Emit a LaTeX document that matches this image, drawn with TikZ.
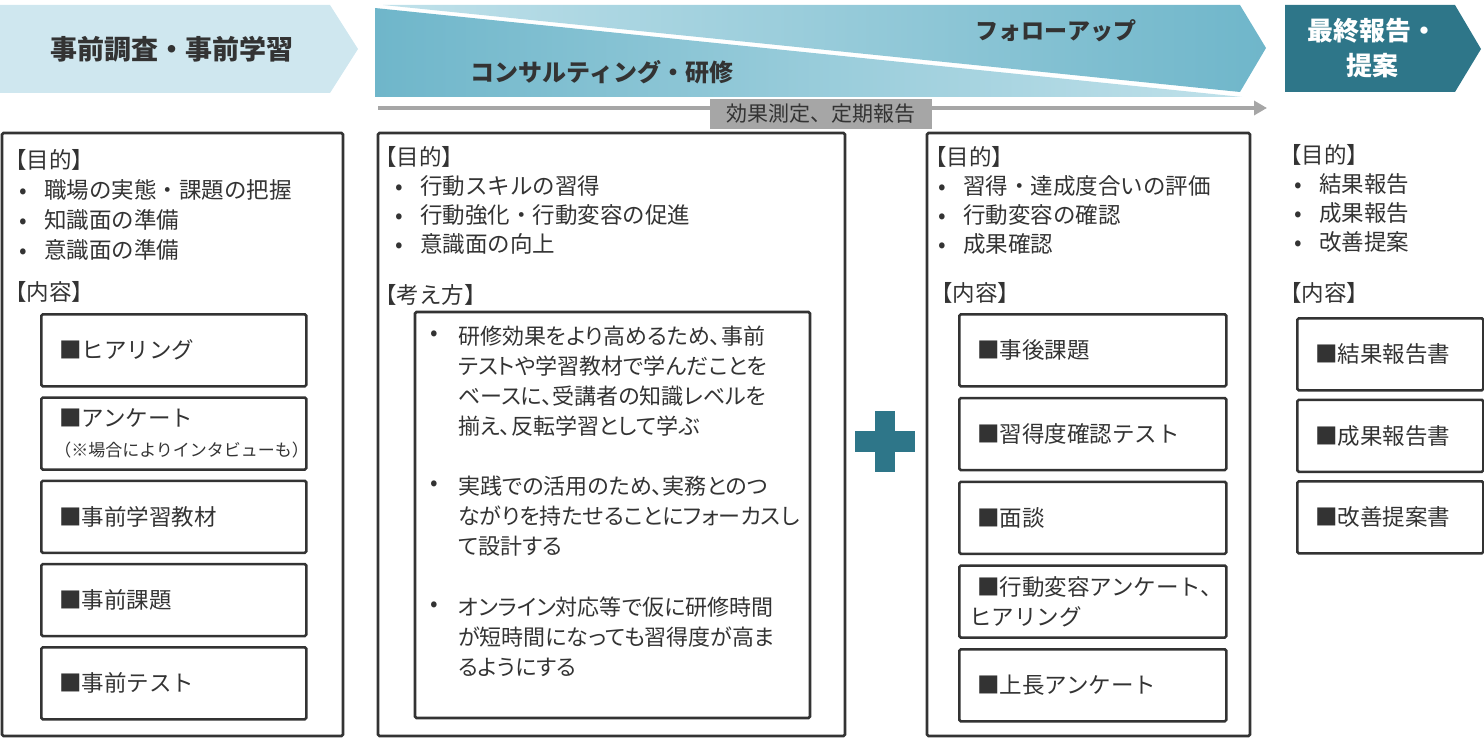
\documentclass[tikz,border=0pt]{standalone}
\usepackage{fontspec}
\setmainfont{Noto Sans CJK JP}
\newfontfamily\paltfont{Noto Sans CJK JP}[RawFeature=+palt]
\usetikzlibrary{arrows.meta}

\definecolor{ink}{HTML}{333333}
\definecolor{paleblue}{HTML}{CFE7EF}
\definecolor{midblue}{HTML}{6FB6CA}
\definecolor{liteblue}{HTML}{C0E1EA}
\definecolor{deepteal}{HTML}{2E7689}
\definecolor{flowgray}{HTML}{A6A6A6}

\newcommand{\txtsize}{\fontsize{22.5}{30}\selectfont}
\newcommand{\dotitem}[1]{\makebox[25pt][l]{•}#1}

\begin{document}
\begin{tikzpicture}[
  x=1pt, y=-1pt,
  frame/.style={draw=ink, line width=2.6pt, rounded corners=1.5pt},
  itembox/.style={frame, anchor=north west, minimum height=72pt, inner xsep=18pt, inner ysep=0pt, align=left, text=ink, font=\txtsize},
  heading/.style={anchor=west, inner sep=0pt, text=ink, font=\txtsize},
  point/.style={anchor=west, inner sep=0pt, text=ink, font=\txtsize, align=left},
  idea/.style={point, font=\paltfont\fontsize{22}{30}\selectfont},
  banner/.style={inner sep=0pt, text=ink, font=\bfseries\fontsize{24}{30}\selectfont}
]
\useasboundingbox (0,0) rectangle (1484,738);

% Banners
\fill[paleblue] (0,5) -- (330,5) -- (358,49) -- (330,93) -- (0,93) -- cycle;
\shade[left color=midblue, right color=liteblue] (375,8) -- (1242,97) -- (375,97) -- cycle;
\shade[left color=liteblue, right color=midblue] (383,5) -- (1240,5) -- (1266,48) -- (1240,92) -- cycle;
\fill[deepteal] (1285,5) -- (1455,5) -- (1481,49) -- (1455,92) -- (1285,92) -- cycle;

\node[banner, font=\bfseries\fontsize{27}{32}\selectfont] (prep) at (172,49) {事前調査・事前学習};
\node[banner] (consult) at (602,72) {コンサルティング・研修};
\node[banner, font=\bfseries\fontsize{23}{30}\selectfont] (follow) at (1056,31) {フォローアップ};
\node[banner, text=white, align=center, font=\bfseries\fontsize{26}{35}\selectfont] (report) at (1372,48) {最終報告・\\提案};

% Measurement arrow
\coordinate (flowstart) at (378,108);
\coordinate (flowend) at (1267,108);
\draw[flowgray, line width=4pt, -{Triangle[length=13pt, width=14pt]}] (flowstart) -- (flowend);
\node[fill=flowgray, text=ink, minimum width=222pt, minimum height=30pt, inner sep=0pt, font=\fontsize{21}{24}\selectfont] (measure) at (821,114) {効果測定、定期報告};

% Frames
\draw[frame] (2,133) rectangle (343,736);
\draw[frame] (378,133) rectangle (845,736);
\draw[frame] (415,312) rectangle (810,718);
\draw[frame] (927,133) rectangle (1250,736);

% Column: prep
\node[heading] (aim-a) at (4,160) {【目的】};
\foreach \txt [count=\i] in {職場の実態・課題の把握, 知識面の準備, 意識面の準備}
  \node[point] (aim-a-\i) at (19,160+30*\i) {\dotitem{\txt}};
\node[heading] (content-a) at (4,292) {【内容】};
\foreach \txt [count=\i] in {■ヒアリング, {■アンケート\\\hspace*{-5pt}{\fontsize{17}{20}\selectfont （※場合によりインタビューも）}}, ■事前学習教材, ■事前課題, ■事前テスト}
  \node[itembox, minimum width=265pt, text width=229pt] (prep-\i) at (40,229.75+83.25*\i) {\txt};

% Column: consulting
\node[heading] (aim-b) at (374,157) {【目的】};
\foreach \txt [count=\i] in {行動スキルの習得, 行動強化・行動変容の促進, 意識面の向上}
  \node[point] (aim-b-\i) at (395,157+29*\i) {\dotitem{\txt}};
\node[heading] (idea) at (374,295) {【考え方】};
\node[point] (idea-1-dot) at (430,336) {•};
\node[idea] (idea-1) at (458,381) {研修効果をより高めるため、事前\\テストや学習教材で学んだことを\\ベースに、受講者の知識レベルを\\揃え、反転学習として学ぶ};
\node[point] (idea-2-dot) at (430,486) {•};
\node[idea] (idea-2) at (458,516) {実践での活用のため、実務とのつ\\ながりを持たせることにフォーカスし\\て設計する};
\node[point] (idea-3-dot) at (430,607) {•};
\node[idea] (idea-3) at (458,637) {オンライン対応等で仮に研修時間\\が短時間になっても習得度が高ま\\るようにする};

% Plus
\fill[deepteal] (875,411) rectangle (895,472);
\fill[deepteal] (855,431) rectangle (915,452);

% Column: follow-up
\node[heading] (aim-c) at (924,157) {【目的】};
\foreach \txt [count=\i] in {習得・達成度合いの評価, 行動変容の確認, 成果確認}
  \node[point] (aim-c-\i) at (938,157+29*\i) {\dotitem{\txt}};
\node[heading] (content-c) at (930,293) {【内容】};
\foreach \txt [count=\i] in {■事後課題, ■習得度確認テスト, ■面談, {■行動変容アンケート、\\\hspace*{-8pt}ヒアリング}, ■上長アンケート}
  \node[itembox, minimum width=267pt, text width=231pt] (follow-\i) at (958,229.25+83.75*\i) {\txt};

% Column: report
\node[heading] (aim-d) at (1279,155) {【目的】};
\foreach \txt [count=\i] in {結果報告, 成果報告, 改善提案}
  \node[point] (aim-d-\i) at (1294,155+29*\i) {\dotitem{\txt}};
\node[heading] (content-d) at (1279,293) {【内容】};
\foreach \txt [count=\i] in {■結果報告書, ■成果報告書, ■改善提案書}
  \node[itembox, minimum width=186pt, text width=150pt] (report-\i) at (1296,235.5+81.5*\i) {\txt};
\end{tikzpicture}
\end{document}
